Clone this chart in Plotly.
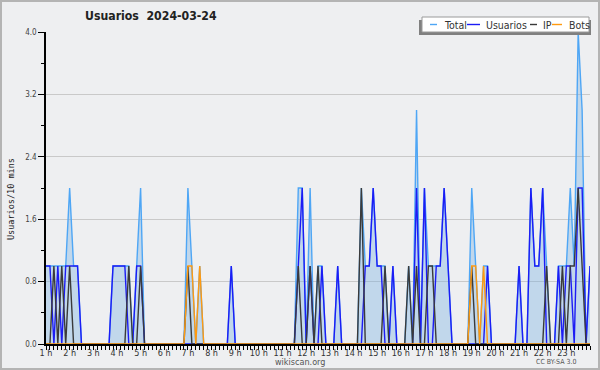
import plotly.graph_objects as go

# ---- data (one value per 10 minutes, from 1 h to 24 h) ----
hours = list(range(1, 24))
hour_labels = [f"{h} h" for h in hours]
y_ticks = [0.0, 0.8, 1.6, 2.4, 3.2, 4.0]
y_tick_labels = ["0.0", "0.8", "1.6", "2.4", "3.2", "4.0"]

total = [
    1, 1, 1, 1, 1, 1,   # 1 h
    2, 1, 1, 0, 0, 0,   # 2 h
    0, 0, 0, 0, 0, 1,   # 3 h
    1, 1, 1, 1, 0, 1,   # 4 h
    2, 0, 0, 0, 0, 0,   # 5 h
    0, 0, 0, 0, 0, 0,   # 6 h
    2, 1, 0, 1, 0, 0,   # 7 h
    0, 0, 0, 0, 0, 1,   # 8 h
    0, 0, 0, 0, 0, 0,   # 9 h
    0, 0, 0, 0, 0, 0,   # 10 h
    0, 0, 0, 0, 2, 2,   # 11 h
    0, 2, 0, 1, 1, 0,   # 12 h
    0, 0, 1, 0, 0, 0,   # 13 h
    0, 0, 2, 1, 1, 2,   # 14 h
    1, 1, 1, 0, 1, 0,   # 15 h
    0, 0, 1, 0, 3, 0,   # 16 h
    2, 1, 1, 1, 1, 2,   # 17 h
    1, 0, 0, 0, 0, 0,   # 18 h
    2, 1, 0, 1, 1, 0,   # 19 h
    0, 0, 0, 0, 0, 0,   # 20 h
    1, 0, 0, 2, 1, 1,   # 21 h
    2, 1, 0, 0, 1, 1,   # 22 h
    1, 2, 1, 4, 3, 0,   # 23 h
    1,
]
usuarios = [
    1, 1, 0, 1, 0, 1,
    1, 1, 1, 0, 0, 0,
    0, 0, 0, 0, 0, 1,
    1, 1, 1, 0, 0, 1,
    1, 0, 0, 0, 0, 0,
    0, 0, 0, 0, 0, 0,
    0, 0, 0, 0, 0, 0,
    0, 0, 0, 0, 0, 1,
    0, 0, 0, 0, 0, 0,
    0, 0, 0, 0, 0, 0,
    0, 0, 0, 0, 1, 2,
    0, 1, 0, 0, 1, 0,
    0, 0, 1, 0, 0, 0,
    0, 0, 0, 1, 1, 2,
    1, 1, 0, 0, 1, 0,
    0, 0, 0, 0, 2, 0,
    2, 0, 0, 1, 1, 2,
    1, 0, 0, 0, 0, 0,
    0, 0, 0, 0, 1, 0,
    0, 0, 0, 0, 0, 0,
    1, 0, 0, 2, 1, 1,
    2, 0, 0, 0, 1, 0,
    1, 1, 0, 2, 2, 0,
    1,
]
ip = [
    0, 0, 1, 0, 1, 0,
    1, 0, 0, 0, 0, 0,
    0, 0, 0, 0, 0, 0,
    0, 0, 0, 1, 0, 0,
    1, 0, 0, 0, 0, 0,
    0, 0, 0, 0, 0, 0,
    1, 0, 0, 0, 0, 0,
    0, 0, 0, 0, 0, 0,
    0, 0, 0, 0, 0, 0,
    0, 0, 0, 0, 0, 0,
    0, 0, 0, 0, 1, 0,
    0, 1, 0, 1, 0, 0,
    0, 0, 0, 0, 0, 0,
    0, 0, 2, 0, 0, 0,
    0, 0, 1, 0, 0, 0,
    0, 0, 1, 0, 1, 0,
    0, 1, 1, 0, 0, 0,
    0, 0, 0, 0, 0, 0,
    1, 0, 0, 0, 0, 0,
    0, 0, 0, 0, 0, 0,
    0, 0, 0, 0, 0, 0,
    0, 1, 0, 0, 0, 1,
    0, 1, 1, 2, 1, 0,
    0,
]
bots = [
    0, 0, 0, 0, 0, 0,
    0, 0, 0, 0, 0, 0,
    0, 0, 0, 0, 0, 0,
    0, 0, 0, 0, 0, 0,
    0, 0, 0, 0, 0, 0,
    0, 0, 0, 0, 0, 0,
    1, 1, 0, 1, 0, 0,
    0, 0, 0, 0, 0, 0,
    0, 0, 0, 0, 0, 0,
    0, 0, 0, 0, 0, 0,
    0, 0, 0, 0, 0, 0,
    0, 0, 0, 0, 0, 0,
    0, 0, 0, 0, 0, 0,
    0, 0, 0, 0, 0, 0,
    0, 0, 0, 0, 0, 0,
    0, 0, 0, 0, 0, 0,
    0, 0, 0, 0, 0, 0,
    0, 0, 0, 0, 0, 0,
    1, 1, 0, 1, 0, 0,
    0, 0, 0, 0, 0, 0,
    0, 0, 0, 0, 0, 0,
    0, 0, 0, 0, 0, 0,
    0, 0, 0, 0, 0, 0,
    0,
]

# time of each sample, in hours
times = [1 + i / 6 for i in range(len(total))]

# ---- styling ----
W, H = 600, 370
ML, MR, MT, MB = 46, 10, 32, 26
PW, PH = W - ML - MR, H - MT - MB
C_TOTAL, C_FILL = "#4ea6f5", "rgba(120,175,225,0.38)"
C_USERS, C_IP, C_BOTS = "#1c1cf5", "#3a3a3a", "#ff9a10"
FONT = "DejaVu Sans Condensed, DejaVu Sans"


def px(xp):
    return (xp - ML) / PW


def py(yp):
    return (H - MB - yp) / PH


fig = go.Figure()
fig.add_trace(go.Scatter(x=times, y=total, mode="lines", fill="tozeroy",
                         fillcolor=C_FILL, line=dict(color=C_TOTAL, width=1.4),
                         name="Total", showlegend=False, hoverinfo="skip"))
fig.add_trace(go.Scatter(x=times, y=usuarios, mode="lines",
                         line=dict(color=C_USERS, width=1.4),
                         name="Usuarios", showlegend=False, hoverinfo="skip"))
fig.add_trace(go.Scatter(x=times, y=ip, mode="lines",
                         line=dict(color=C_IP, width=1.4),
                         name="IP", showlegend=False, hoverinfo="skip"))
fig.add_trace(go.Scatter(x=times, y=bots, mode="lines",
                         line=dict(color=C_BOTS, width=1.4),
                         name="Bots", showlegend=False, hoverinfo="skip"))

shapes = [
    # outer frame
    dict(type="rect", xref="paper", yref="paper", x0=px(1), x1=px(599),
         y0=py(1), y1=py(369), line=dict(color="#b4b4b4", width=2), layer="below"),
    # legend shadow and box
    dict(type="rect", xref="paper", yref="paper", x0=px(419), x1=px(591),
         y0=py(20), y1=py(35), fillcolor="#808080", line=dict(width=0)),
    dict(type="rect", xref="paper", yref="paper", x0=px(422), x1=px(589),
         y0=py(17), y1=py(32), fillcolor="white", line=dict(color="#9a9a9a", width=1)),
]
legend_items = [("Total", C_TOTAL, 430, 437, 442), ("Usuarios", C_USERS, 467, 480, 484),
                ("IP", C_IP, 530, 537, 541), ("Bots", C_BOTS, 552, 562, 567)]
annotations = []
for name, col, l0, l1, tx in legend_items:
    shapes.append(dict(type="line", xref="paper", yref="paper", x0=px(l0), x1=px(l1),
                       y0=py(24.5), y1=py(24.5), line=dict(color=col, width=1.4)))
    annotations.append(dict(text=name, xref="paper", yref="paper", x=px(tx), y=py(24.5),
                            xanchor="left", yanchor="middle", showarrow=False,
                            font=dict(family=FONT, size=10.5, color="#333")))

annotations += [
    dict(text="<b>Usuarios\u00a0\u00a02024-03-24</b>", xref="paper", yref="paper",
         x=px(151), y=py(16), xanchor="center", yanchor="middle", showarrow=False,
         font=dict(family=FONT, size=12.2, color="#222")),
    dict(text="Usuarios/10 mins", xref="paper", yref="paper", x=px(11), y=py(199),
         xanchor="center", yanchor="middle", textangle=-90, showarrow=False,
         font=dict(family="DejaVu Sans Mono", size=8.5, color="#222")),
    dict(text="wikiscan.org", xref="paper", yref="paper", x=px(300), y=py(362),
         xanchor="center", yanchor="middle", showarrow=False,
         font=dict(family=FONT, size=9, color="#555")),
    dict(text="CC BY-SA 3.0", xref="paper", yref="paper", x=px(556), y=py(362),
         xanchor="center", yanchor="middle", showarrow=False,
         font=dict(family=FONT, size=7, color="#555")),
]

fig.update_layout(
    width=W, height=H, margin=dict(l=ML, r=MR, t=MT, b=MB, pad=0),
    paper_bgcolor="#eeeff1", plot_bgcolor="#eeeff1",
    showlegend=False, shapes=shapes, annotations=annotations, hovermode=False,
    xaxis=dict(range=[1, 24], tickmode="array", tickvals=hours, ticktext=hour_labels,
               ticks="outside", ticklen=4, tickwidth=1, tickcolor="black",
               showline=True, linecolor="black", linewidth=1.5, showgrid=False,
               zeroline=False, automargin=False, ticklabelstandoff=-5,
               tickfont=dict(family=FONT, size=9, color="#333"),
               minor=dict(tick0=1, dtick=1 / 6, ticks="outside", ticklen=4,
                          tickcolor="black", showgrid=False)),
    yaxis=dict(range=[0, 4], tickmode="array", tickvals=y_ticks, ticktext=y_tick_labels,
               ticks="outside", ticklen=6, tickcolor="black", showline=True,
               linecolor="black", linewidth=1.5, showgrid=True, gridcolor="#c9c9c9",
               gridwidth=1, zeroline=False, automargin=False,
               tickfont=dict(family=FONT, size=8, color="#444"),
               minor=dict(tickmode="array", tickvals=[0.4, 1.2, 2.0, 2.8, 3.6],
                          ticks="outside", ticklen=3, tickcolor="black", showgrid=False)),
)

fig.write_html("out.html", config={"displayModeBar": False},
               post_script="document.body.style.margin='0';document.body.style.padding='0';")
